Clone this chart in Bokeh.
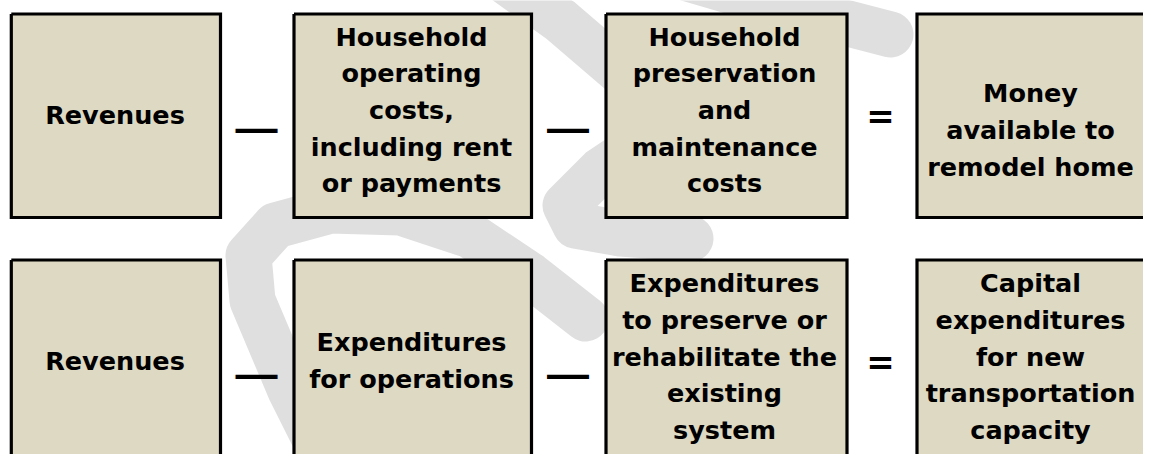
from bokeh.plotting import figure
from bokeh.models import Range1d
from bokeh.core.properties import value
from bokeh.embed import file_html
from bokeh.resources import INLINE

# ---------------- data ----------------
labels_top = [
    "Revenues",
    "Household\noperating\ncosts,\nincluding rent\nor payments",
    "Household\npreservation\nand\nmaintenance\ncosts",
    "Money\navailable to\nremodel home",
]
labels_bottom = [
    "Revenues",
    "Expenditures\nfor operations",
    "Expenditures\nto preserve or\nrehabilitate the\nexisting\nsystem",
    "Capital\nexpenditures\nfor new\ntransportation\ncapacity",
]
operators = ["\u2014", "\u2014", "="]

# watermark strokes (faint background mark)
wm_xs = [
    [330, 290, 252, 248, 275, 330, 400, 470, 530, 585],
    [660, 790, 890],
    [490, 560, 630],
    [660, 600, 565, 575, 620, 690],
]
wm_ys = [
    [470, 390, 300, 255, 225, 210, 212, 235, 275, 318],
    [-30, 8, 34],
    [-30, 20, 80],
    [130, 170, 205, 225, 233, 238],
]

# ---------------- layout ----------------
box_x0 = [10.8, 293.5, 605.5, 916.5]
box_x1 = [220.0, 531.0, 846.5, 1143.0]
row_top = [13.5, 259.5]
row_bot = [217.0, 600.0]
text_cx = [114.5, 411.0, 724.0, 1030.0]
first_mid = [[114.3, 36.0, 36.0, 92.7], [360.3, 341.7, 282.7, 282.7]]
line_step = 36.7
op_cx = [256.0, 567.5, 880.0]
op_mid = [[126.5, 126.5, 115.5], [372.5, 372.5, 361.0]]

p = figure(width=1143, height=454, x_range=Range1d(0, 1143), y_range=Range1d(454, 0),
           output_backend="svg", toolbar_location=None, min_border=0,
           x_axis_location=None, y_axis_location=None)
p.grid.visible = False
p.outline_line_color = None
p.background_fill_color = "white"
p.border_fill_color = "white"

p.multi_line(xs=wm_xs, ys=wm_ys, line_color="#DFDFDF", line_width=46,
             line_cap="round", line_join="round")

qx0, qx1, qt, qb = [], [], [], []
bx, by = [], []
for r in range(2):
    for i in range(4):
        x0, x1, t, b = box_x0[i], box_x1[i], row_top[r], row_bot[r]
        qx0.append(x0); qx1.append(x1); qt.append(t); qb.append(b)
        if i < 3:
            bx.append([x0, x1, x1, x0, x0]); by.append([t, t, b, b, t])
        else:
            # last box runs off the right edge: no right side drawn
            bx.append([x1 + 10, x0, x0, x1 + 10]); by.append([t, t, b, b])
p.quad(left=qx0, right=qx1, top=qt, bottom=qb, fill_color="#DDD9C3", line_color=None)
p.multi_line(xs=bx, ys=by, line_color="black", line_width=3.2, line_join="miter")

tx, ty, tt = [], [], []
for r, labels in enumerate([labels_top, labels_bottom]):
    for i, lab in enumerate(labels):
        for k, line in enumerate(lab.split("\n")):
            tx.append(text_cx[i]); ty.append(first_mid[r][i] + k * line_step); tt.append(line)
p.text(x=tx, y=ty, text=tt, text_font=value("DejaVu Sans"), text_font_style="bold",
       text_font_size="25.5px", text_align="center", text_baseline="middle",
       text_color="black")

for r in range(2):
    for j, op in enumerate(operators):
        if op == "=":
            p.text(x=[op_cx[j]], y=[op_mid[r][j]], text=[op], text_font=value("DejaVu Sans"),
                   text_font_style="bold", text_font_size="34px", text_align="center",
                   text_baseline="middle", text_color="black")
        else:
            p.text(x=[op_cx[j]], y=[op_mid[r][j]], text=[op], text_font=value("Liberation Sans"),
                   text_font_style="bold", text_font_size="42px", text_align="center",
                   text_baseline="middle", text_color="black")

open("out.html", "w").write(file_html(p, INLINE))
